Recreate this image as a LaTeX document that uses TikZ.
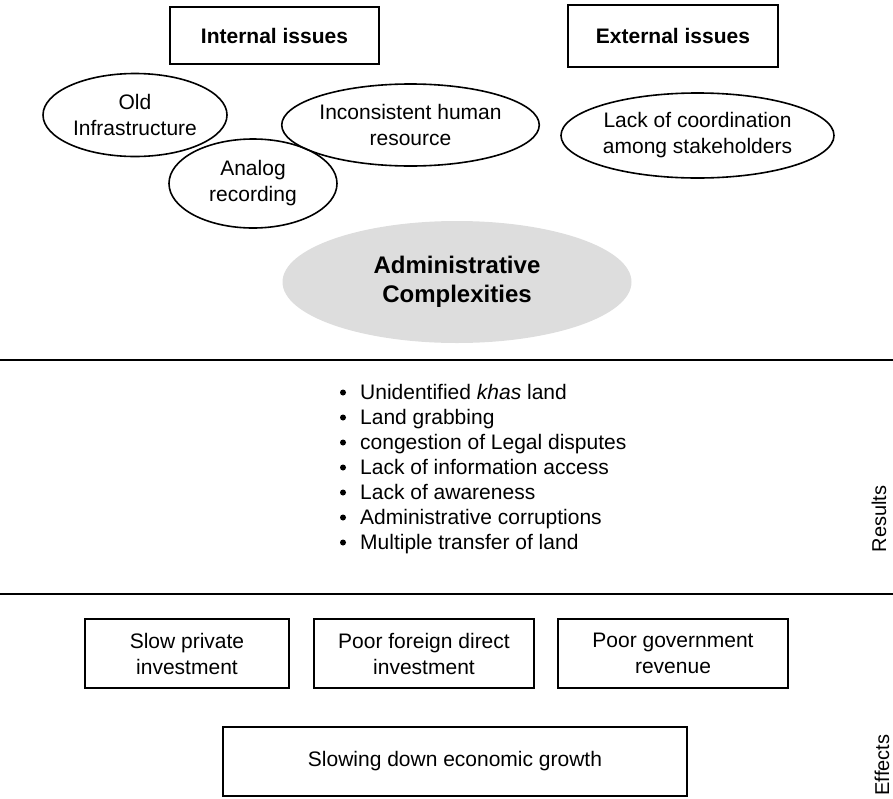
\documentclass[tikz,border=0pt]{standalone}
\usepackage{fontspec}
\setmainfont{Liberation Sans}
\usetikzlibrary{shapes.geometric}
\definecolor{admgrey}{RGB}{221,221,221}
\begin{document}
\begin{tikzpicture}[x=1pt,y=-1pt,
  hdr/.style={draw, rectangle, line width=1.3pt, inner sep=0pt, font=\fontsize{21}{26}\selectfont\bfseries},
  oval/.style={draw, ellipse, line width=1.6pt, inner sep=0pt, align=center, font=\fontsize{21}{26}\selectfont},
  effbox/.style={draw, rectangle, line width=1.3pt, inner sep=0pt, align=center, font=\fontsize{21}{26}\selectfont},
  item/.style={anchor=base west, inner sep=0pt, font=\fontsize{21}{25}\selectfont},
  dot/.style={fill=black},
  sidelabel/.style={rotate=90, inner sep=0pt, font=\fontsize{20}{24}\selectfont},
  divider/.style={line width=1.3pt}]
\useasboundingbox (0,0) rectangle (893,798);

% headers
\node[hdr, minimum width=209pt, minimum height=57pt] (internal) at (274.5,35.5) {Internal issues};
\node[hdr, minimum width=210pt, minimum height=62pt] (external) at (673,36) {External issues};

% ovals
\node[oval, minimum width=184pt, minimum height=83pt] (old) at (135,115) {Old\\Infrastructure};
\node[oval, minimum width=168pt, minimum height=89pt] (analog) at (253,183.5) {Analog\\recording};
\node[oval, minimum width=233pt, minimum height=82pt] (incons) at (410.5,125) {Inconsistent human\\resource};
\node[oval, minimum width=273pt, minimum height=85pt] (lack) at (697.5,135.5) {Lack of coordination\\among stakeholders};
\node[ellipse, fill=admgrey, inner sep=0pt, minimum width=349pt, minimum height=122pt, align=center,
      font=\fontsize{24}{29}\selectfont\bfseries] (admin) at (457,282) {Administrative\\Complexities};

% dividers
\coordinate (d1l) at (0,360); \coordinate (d1r) at (893,360);
\coordinate (d2l) at (0,594); \coordinate (d2r) at (893,594);
\draw[divider] (d1l) -- (d1r);
\draw[divider] (d2l) -- (d2r);

% results list
\foreach \t [count=\i from 0] in {Unidentified \textit{khas} land, Land grabbing, congestion of Legal disputes,
  Lack of information access, Lack of awareness, Administrative corruptions, Multiple transfer of land}{
  \node[item] (r\i) at (360,{399+25*\i}) {\t};
  \fill[dot] ([xshift=-17pt,yshift=6.5pt]r\i.base west) circle (3pt);
}
\node[sidelabel] (results) at (879,519) {Results};

% effects
\node[effbox, minimum width=204pt, minimum height=69pt] (slow) at (187,653.5) {Slow private\\investment};
\node[effbox, minimum width=220pt, minimum height=69pt] (fdi) at (424,653.5) {Poor foreign direct\\investment};
\node[effbox, minimum width=230pt, minimum height=69pt] (gov) at (673,653.5) {Poor government\\revenue};
\node[effbox, minimum width=464pt, minimum height=69pt] (growth) at (455,761.5) {Slowing down economic growth};
\node[sidelabel] (effects) at (882,765) {Effects};
\end{tikzpicture}
\end{document}
